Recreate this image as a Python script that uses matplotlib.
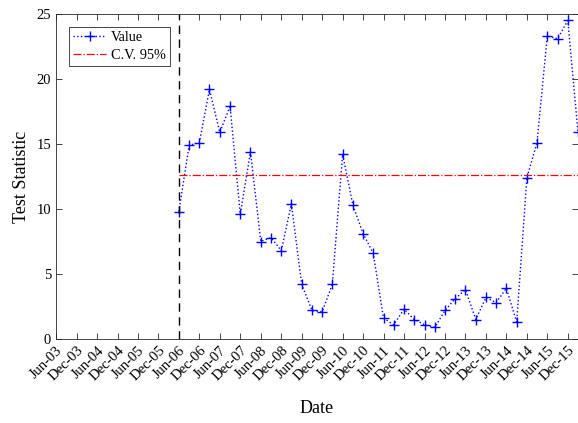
import numpy as np
import pandas as pd
import matplotlib
matplotlib.use("Agg")
import matplotlib.pyplot as plt
import matplotlib.transforms as mtransforms

# Quarterly test statistic, Jun-2006 .. Mar-2016
start_date = "2006-06-01"
values = [9.8, 14.9, 15.1, 19.2, 15.9, 17.9, 9.6, 14.4, 7.5, 7.8,
          6.8, 10.4, 4.2, 2.2, 2.1, 4.2, 14.2, 10.3, 8.1, 6.6,
          1.6, 1.1, 2.3, 1.5, 1.1, 0.9, 2.2, 3.1, 3.8, 1.5,
          3.2, 2.8, 3.9, 1.3, 12.4, 15.1, 23.3, 23.1, 24.5, 15.9]
critical_value = 12.6
break_date = "2006-06-01"
x_start, x_end = "2003-06-01", "2016-03-01"
tick_dates = pd.date_range("2003-06-01", "2015-12-01", freq="6MS")
tick_labels = [d.strftime("%b-%y") for d in tick_dates]
y_ticks = [0, 5, 10, 15, 20, 25]

dates = pd.date_range(start_date, periods=len(values), freq="3MS")

plt.rcParams["font.family"] = ["Liberation Serif", "DejaVu Serif"]
plt.rcParams["font.size"] = 10.5

W, H = 578, 423
fig = plt.figure(figsize=(W / 100, H / 100), dpi=100)
ax = fig.add_axes([56 / W, (H - 339) / H, 1 - 56 / W, (339 - 14) / H])

ax.plot(dates, values, linestyle=":", color="#0000ff", linewidth=1.0,
        marker="+", markersize=7, markeredgewidth=1.0, label="Value")
ax.plot(pd.to_datetime([break_date, x_end]), [critical_value, critical_value],
        linestyle="-.", color="#ff0000", linewidth=0.9, label="C.V. 95%")
ax.axvline(pd.Timestamp(break_date), color="black", linestyle=(0, (6, 4)),
           linewidth=1.0)

ax.set_xlim(pd.Timestamp(x_start), pd.Timestamp(x_end))
ax.set_ylim(0, 25)
ax.set_xticks(tick_dates)
ax.set_xticklabels(tick_labels, rotation=45, ha="right", va="top",
                   rotation_mode="anchor", fontsize=10.5)
shift = mtransforms.ScaledTranslation(3 / 100, -10 / 100, fig.dpi_scale_trans)
for lbl in ax.get_xticklabels():
    lbl.set_transform(lbl.get_transform() + shift)
ax.set_yticks(y_ticks)
ax.tick_params(direction="in", length=4, width=0.6, top=True, right=True,
               colors="#262626", labelcolor="black", labelsize=10.5)
for s in ax.spines.values():
    s.set_color("#262626")
    s.set_linewidth(0.6)

ax.set_xlabel("Date", fontsize=13)
ax.xaxis.set_label_coords(0.5, -(400 - 339) / 325)
ax.set_ylabel("Test Statistic", fontsize=13)
ax.yaxis.set_label_coords(-(56 - 30) / 522, 0.5)

leg = ax.legend(loc="upper left", bbox_to_anchor=(69 / W, (H - 27) / H),
                bbox_transform=fig.transFigure, borderaxespad=0,
                fancybox=False, edgecolor="#262626", framealpha=1,
                handlelength=2.3, handletextpad=0.35, borderpad=0.3,
                labelspacing=0.3, fontsize=10.3)
leg.get_frame().set_linewidth(0.6)

fig.savefig("out.png", dpi=100)
